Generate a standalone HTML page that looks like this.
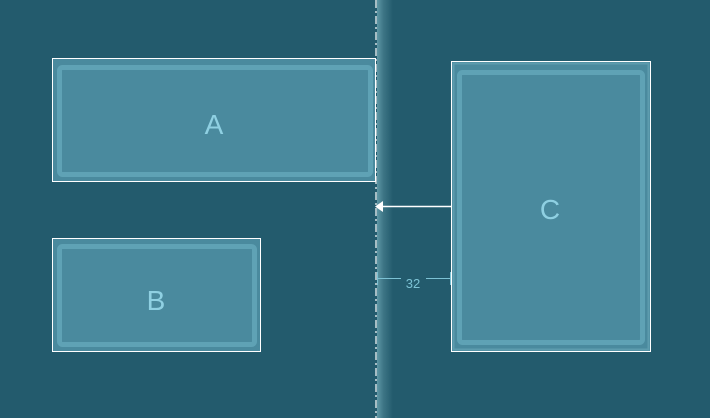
<!DOCTYPE html>
<html><head><style>
html,body{margin:0;padding:0;background:#235b6d;}
svg{display:block;}
text{font-family:"Liberation Sans",sans-serif;}
</style></head><body>
<svg width="710" height="418" viewBox="0 0 710 418" xmlns="http://www.w3.org/2000/svg">
<defs>
<linearGradient id="sh" x1="0" x2="1" y1="0" y2="0">
<stop offset="0" stop-color="#5f98a6"/>
<stop offset="0.4" stop-color="#3d7585"/>
<stop offset="1" stop-color="#235b6d"/>
</linearGradient>
</defs>
<rect width="710" height="418" fill="#235b6d"/>
<rect x="377" y="0" width="16" height="418" fill="url(#sh)"/>
<!-- A -->
<rect x="52.5" y="58.5" width="323" height="123" fill="#4a8a9e" stroke="#fff" stroke-width="1"/>
<rect x="59.5" y="67.5" width="311" height="107" rx="3" fill="none" stroke="#5fa2b5" stroke-width="5"/>
<text x="214" y="134" font-size="28" fill="#8fd0e2" text-anchor="middle">A</text>
<!-- B -->
<rect x="52.5" y="238.5" width="208" height="113" fill="#4a8a9e" stroke="#fff" stroke-width="1"/>
<rect x="59.5" y="246.5" width="195" height="98" rx="3" fill="none" stroke="#5fa2b5" stroke-width="5"/>
<text x="156" y="310" font-size="28" fill="#8fd0e2" text-anchor="middle">B</text>
<!-- C -->
<rect x="451.5" y="61.5" width="199" height="290" fill="#4a8a9e" stroke="#fff" stroke-width="1"/>
<rect x="453.5" y="63.5" width="195" height="286" fill="none" stroke="#5d9cae" stroke-width="2"/>
<rect x="459.5" y="72.5" width="183" height="270" rx="3" fill="none" stroke="#5fa2b5" stroke-width="5"/>
<text x="550" y="219" font-size="28" fill="#8fd0e2" text-anchor="middle">C</text>
<!-- guideline -->
<line x1="376" y1="0" x2="376" y2="418" stroke="#fff" stroke-width="1.2" stroke-dasharray="8,3,2,3"/>
<!-- arrow -->
<line x1="382" y1="206.5" x2="451" y2="206.5" stroke="#fff" stroke-width="1.5"/>
<polygon points="375,206.5 383,201 383,212" fill="#fff"/>
<!-- dimension -->
<line x1="377" y1="278.5" x2="401" y2="278.5" stroke="#7cc2d4" stroke-width="1"/>
<line x1="426" y1="278.5" x2="450" y2="278.5" stroke="#7cc2d4" stroke-width="1"/>
<line x1="377.5" y1="272" x2="377.5" y2="285" stroke="#7cc2d4" stroke-width="1"/>
<line x1="450.5" y1="272" x2="450.5" y2="285" stroke="#7cc2d4" stroke-width="1"/>
<text x="413" y="288" font-size="13" fill="#7cc2d4" text-anchor="middle">32</text>
</svg>
</body></html>
